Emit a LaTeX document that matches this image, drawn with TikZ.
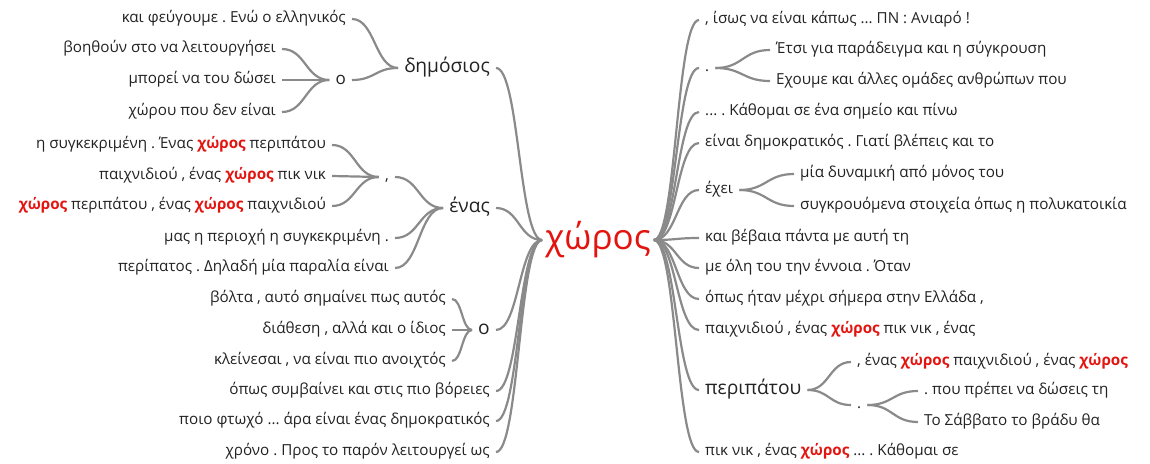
\documentclass[tikz,border=0pt]{standalone}
\usepackage{fontspec}
\setmainfont{Open Sans}
\usetikzlibrary{calc}
\frenchspacing

\definecolor{txtgray}{HTML}{222222}
\definecolor{linkgray}{HTML}{8A8A8A}
\definecolor{kwred}{HTML}{E3140F}
\newcommand{\kw}[1]{\textcolor{kwred}{\bfseries #1}}

\tikzset{
  leaf/.style={font=\fontsize{15.2}{17}\selectfont, text=txtgray, inner xsep=6pt, inner ysep=0pt, text height=11pt, text depth=3.5pt},
  lleaf/.style={leaf, anchor=east},
  rleaf/.style={leaf, anchor=west},
  mid/.style={font=\fontsize{17}{19}\selectfont, text height=12pt, text depth=4pt},
  big/.style={font=\fontsize{19.2}{21}\selectfont, text height=13pt, text depth=4.5pt},
  wlink/.style={draw=linkgray, line width=2.2pt,
    to path={let \p1=(\tikztostart), \p2=(\tikztotarget) in
      .. controls ({(\x1+\x2)/2},\y1) and ({(\x1+\x2)/2},\y2) .. (\tikztotarget)}}
}

\begin{document}
\begin{tikzpicture}[x=1pt,y=-1pt]
  \useasboundingbox (0,0) rectangle (1150,463);

  \node[font=\fontsize{35}{38}\selectfont, text=kwred, inner xsep=3pt] (xoros) at (598,240) {χώρος};

  % left side
  \node[lleaf, big] (dim) at (496,68) {δημόσιος};
  \node[lleaf] (dimA) at (352,19) {και φεύγουμε . Ενώ ο ελληνικός};
  \node[lleaf, mid] (dimO) at (352,80) {ο};
  \node[lleaf] (dimO1) at (282,49) {βοηθούν στο να λειτουργήσει};
  \node[lleaf] (dimO2) at (282,80) {μπορεί να του δώσει};
  \node[lleaf] (dimO3) at (282,112) {χώρου που δεν είναι};

  \node[lleaf, big] (enas) at (496,208) {ένας};
  \node[lleaf] (comma) at (395,177) {,};
  \node[lleaf] (comma1) at (332,145) {η συγκεκριμένη . Ένας \kw{χώρος} περιπάτου};
  \node[lleaf] (comma2) at (332,176) {παιχνιδιού , ένας \kw{χώρος} πικ νικ};
  \node[lleaf] (comma3) at (332,206) {\kw{χώρος} περιπάτου , ένας \kw{χώρος} παιχνιδιού};
  \node[lleaf] (enasB) at (395,238) {μας η περιοχή η συγκεκριμένη .};
  \node[lleaf] (enasC) at (395,268) {περίπατος . Δηλαδή μία παραλία είναι};

  \node[lleaf, big] (omik) at (496,330) {ο};
  \node[lleaf] (omik1) at (452,299) {βόλτα , αυτό σημαίνει πως αυτός};
  \node[lleaf] (omik2) at (452,330) {διάθεση , αλλά και ο ίδιος};
  \node[lleaf] (omik3) at (452,361) {κλείνεσαι , να είναι πιο ανοιχτός};

  \node[lleaf] (lb4) at (496,391) {όπως συμβαίνει και στις πιο βόρειες};
  \node[lleaf] (lb5) at (496,421) {ποιο φτωχό ... άρα είναι ένας δημοκρατικός};
  \node[lleaf] (lb6) at (496,452) {χρόνο . Προς το παρόν λειτουργεί ως};

  % right side
  \node[rleaf] (ra) at (699,20) {, ίσως να είναι κάπως ... ΠΝ : Ανιαρό !};
  \node[rleaf] (dot) at (699,68) {.};
  \node[rleaf] (dot1) at (770,50) {Έτσι για παράδειγμα και η σύγκρουση};
  \node[rleaf] (dot2) at (770,81) {Εχουμε και άλλες ομάδες ανθρώπων που};
  \node[rleaf] (rc) at (699,112) {... . Κάθομαι σε ένα σημείο και πίνω};
  \node[rleaf] (rd) at (699,143) {είναι δημοκρατικός . Γιατί βλέπεις και το};
  \node[rleaf] (exei) at (699,190) {έχει};
  \node[rleaf] (exei1) at (794,174) {μία δυναμική από μόνος του};
  \node[rleaf] (exei2) at (794,206) {συγκρουόμενα στοιχεία όπως η πολυκατοικία};
  \node[rleaf] (rf) at (699,238) {και βέβαια πάντα με αυτή τη};
  \node[rleaf] (rg) at (699,268) {με όλη του την έννοια . Όταν};
  \node[rleaf] (rh) at (699,299) {όπως ήταν μέχρι σήμερα στην Ελλάδα ,};
  \node[rleaf] (ri) at (699,330) {παιχνιδιού , ένας \kw{χώρος} πικ νικ , ένας};
  \node[rleaf, big] (perip) at (699,390) {περιπάτου};
  \node[rleaf] (perip1) at (851,362) {, ένας \kw{χώρος} παιχνιδιού , ένας \kw{χώρος}};
  \node[rleaf] (pdot) at (851,405) {.};
  \node[rleaf] (pdot1) at (918,391) {. που πρέπει να δώσεις τη};
  \node[rleaf] (pdot2) at (918,422) {Το Σάββατο το βράδυ θα};
  \node[rleaf] (rk) at (699,452) {πικ νικ , ένας \kw{χώρος} ... . Κάθομαι σε};

  \path[wlink]
    (dim.east) edge (xoros.west)
    (enas.east) edge (xoros.west)
    (omik.east) edge (xoros.west)
    (lb4.east) edge (xoros.west)
    (lb5.east) edge (xoros.west)
    (lb6.east) edge (xoros.west)
    (dimA.east) edge (dim.west)
    (dimO.east) edge (dim.west)
    (dimO1.east) edge (dimO.west)
    (dimO2.east) edge (dimO.west)
    (dimO3.east) edge (dimO.west)
    (comma.east) edge (enas.west)
    (enasB.east) edge (enas.west)
    (enasC.east) edge (enas.west)
    (comma1.east) edge (comma.west)
    (comma2.east) edge (comma.west)
    (comma3.east) edge (comma.west)
    (omik1.east) edge (omik.west)
    (omik2.east) edge (omik.west)
    (omik3.east) edge (omik.west);

  \path[wlink]
    (xoros.east) edge (ra.west)
    (xoros.east) edge (dot.west)
    (xoros.east) edge (rc.west)
    (xoros.east) edge (rd.west)
    (xoros.east) edge (exei.west)
    (xoros.east) edge (rf.west)
    (xoros.east) edge (rg.west)
    (xoros.east) edge (rh.west)
    (xoros.east) edge (ri.west)
    (xoros.east) edge (perip.west)
    (xoros.east) edge (rk.west)
    (dot.east) edge (dot1.west)
    (dot.east) edge (dot2.west)
    (exei.east) edge (exei1.west)
    (exei.east) edge (exei2.west)
    (perip.east) edge (perip1.west)
    (perip.east) edge (pdot.west)
    (pdot.east) edge (pdot1.west)
    (pdot.east) edge (pdot2.west);
\end{tikzpicture}
\end{document}
